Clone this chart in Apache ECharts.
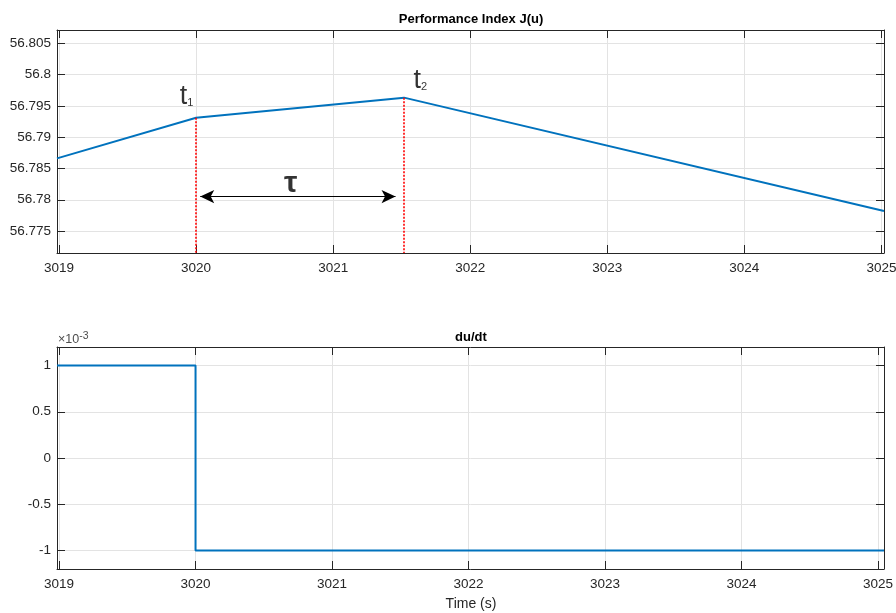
<!DOCTYPE html>
<html>
<head>
<meta charset="utf-8">
<script src="https://cdn.jsdelivr.net/npm/echarts@6/dist/echarts.min.js"></script>
<style>html,body{margin:0;padding:0;background:#fff;}#c{width:896px;height:613px;}</style>
</head>
<body>
<div id="c"></div>
<script>
// ---- data ----
const jTime  = [3018.985, 3020.0, 3021.517, 3025.019];
const jValue = [56.7866, 56.7931, 56.7963, 56.7782];
const duTime  = [3018.985, 3020.0, 3020.0, 3025.044];
const duValue = [0.001, 0.001, -0.001, -0.001];
const topXRange = [3018.985, 3025.019];
const topYRange = [56.7715, 56.8071];
const botXRange = [3018.985, 3025.044];
const botYRange = [-0.0012, 0.0012];
const t1 = [3020.0, 56.7931];
const t2 = [3021.517, 56.7963];
const arrowX = [3020.03, 3021.455];
const arrowY = 56.7805;
const annotX = [3019.93, 3021.635, 3020.69];
const annotY = [56.7965, 56.7990, 56.7825];
const annotText = ['{t|t}{s|1}', '{t|t}{s|2}', '{g|τ}'];

const FONT = '"Liberation Sans", Arial, Helvetica, sans-serif';
const AX = '#262626';
const GRIDC = '#e3e3e3';

function xFmt(v){ return Math.abs(v - Math.round(v)) < 1e-6 ? String(Math.round(v)) : ''; }
function yTopFmt(v){ const k = v/0.005; return Math.abs(k - Math.round(k)) < 1e-6 ? String(+v.toFixed(3)) : ''; }
function yBotFmt(v){ const k = v/0.0005; return Math.abs(k - Math.round(k)) < 1e-6 ? String(+(v*1000).toFixed(1)) : ''; }

function mainX(gi, range, interval){
  return {type:'value', gridIndex:gi, position:'bottom', min:range[0], max:range[1],
    minInterval:interval, maxInterval:interval,
    axisLine:{show:true, onZero:false, lineStyle:{color:AX, width:1}},
    axisTick:{show:true, inside:true, length:8, lineStyle:{color:AX}},
    axisLabel:{show:true, formatter:xFmt, color:AX, fontSize:13.5, fontFamily:FONT, margin:8, hideOverlap:false},
    splitLine:{show:true, lineStyle:{color:GRIDC, width:1}}};
}
function secX(gi, range, interval){
  return {type:'value', gridIndex:gi, position:'top', min:range[0], max:range[1],
    minInterval:interval, maxInterval:interval,
    axisLine:{show:true, onZero:false, lineStyle:{color:AX, width:1}},
    axisTick:{show:true, inside:true, length:8, lineStyle:{color:AX}},
    axisLabel:{show:false}, splitLine:{show:false}};
}
function mainY(gi, range, interval, fmt){
  return {type:'value', gridIndex:gi, position:'left', min:range[0], max:range[1],
    minInterval:interval, maxInterval:interval,
    axisLine:{show:true, onZero:false, lineStyle:{color:AX, width:1}},
    axisTick:{show:true, inside:true, length:8, lineStyle:{color:AX}},
    axisLabel:{show:true, formatter:fmt, color:AX, fontSize:13.5, fontFamily:FONT, margin:6},
    splitLine:{show:true, lineStyle:{color:GRIDC, width:1}}};
}
function secY(gi, range, interval){
  return {type:'value', gridIndex:gi, position:'right', min:range[0], max:range[1],
    minInterval:interval, maxInterval:interval,
    axisLine:{show:true, onZero:false, lineStyle:{color:AX, width:1}},
    axisTick:{show:true, inside:true, length:8, lineStyle:{color:AX}},
    axisLabel:{show:false}, splitLine:{show:false}};
}

const chart = echarts.init(document.getElementById('c'), null, {renderer:'canvas'});
const option = {
  animation:false,
  backgroundColor:'#ffffff',
  grid:[
    {left:57, top:30, width:827, height:223, containLabel:false, outerBoundsMode:'none'},
    {left:57, top:347, width:827, height:222, containLabel:false, outerBoundsMode:'none'}
  ],
  xAxis:[ mainX(0, topXRange, 1), secX(0, topXRange, 1), mainX(1, botXRange, 1), secX(1, botXRange, 1) ],
  yAxis:[ mainY(0, topYRange, 0.005, yTopFmt), secY(0, topYRange, 0.005),
          mainY(1, botYRange, 0.0005, yBotFmt), secY(1, botYRange, 0.0005) ],
  graphic:[
    {type:'text', x:471, y:19, style:{text:'Performance Index J(u)', fill:'#000', font:'bold 13px '+FONT, textAlign:'center', textVerticalAlign:'middle'}},
    {type:'text', x:471, y:337, style:{text:'du/dt', fill:'#000', font:'bold 13px '+FONT, textAlign:'center', textVerticalAlign:'middle'}},
    {type:'text', x:471, y:604, style:{text:'Time (s)', fill:AX, font:'14px '+FONT, textAlign:'center', textVerticalAlign:'middle'}},
    {type:'text', x:58, y:331, style:{rich:{a:{fontSize:12.5, fontFamily:FONT, fill:'#4d4d4d', verticalAlign:'bottom', lineHeight:15}, b:{fontSize:10.5, fontFamily:FONT, fill:'#4d4d4d', verticalAlign:'top', lineHeight:15}}, text:'{a|×10}{b|-3}', textAlign:'left'}}
  ],
  series:[
    {type:'line', xAxisIndex:0, yAxisIndex:0, data:jTime.map((t,i)=>[t,jValue[i]]),
     showSymbol:false, symbol:'none', lineStyle:{color:'#0072BD', width:2}, z:3,
     markLine:{silent:true, symbol:'none', animation:false, label:{show:false},
       lineStyle:{color:'#ff0000', type:[2,1.5], width:1.6},
       data:[
         [{coord:[t1[0], t1[1]]},{coord:[t1[0], topYRange[0]]}],
         [{coord:[t2[0], t2[1]]},{coord:[t2[0], topYRange[0]]}]
       ]}},
    {type:'scatter', xAxisIndex:0, yAxisIndex:0, symbolSize:0, z:5,
     data:annotX.map((x,i)=>({value:[x, annotY[i]], label:{formatter:annotText[i]}})),
     label:{show:true, position:'inside', color:'#000',
       rich:{t:{fontSize:27, fontFamily:FONT, color:'#000', verticalAlign:'bottom', lineHeight:27},
             s:{fontSize:11, fontFamily:FONT, color:'#000', verticalAlign:'bottom', lineHeight:14, padding:[0,0,1.5,0]},
             g:{fontSize:30, fontWeight:'bold', fontFamily:FONT, color:'#000'}}},
     markLine:{silent:true, animation:false, symbol:['arrow','arrow'], symbolSize:[10,14], label:{show:false},
       lineStyle:{color:'#000', type:'solid', width:1},
       data:[[{coord:[arrowX[0], arrowY]},{coord:[arrowX[1], arrowY]}]]}},
    {type:'line', xAxisIndex:2, yAxisIndex:2, data:duTime.map((t,i)=>[t,duValue[i]]),
     showSymbol:false, symbol:'none', lineStyle:{color:'#0072BD', width:2}}
  ]
};
chart.setOption(option);
</script>
</body>
</html>
